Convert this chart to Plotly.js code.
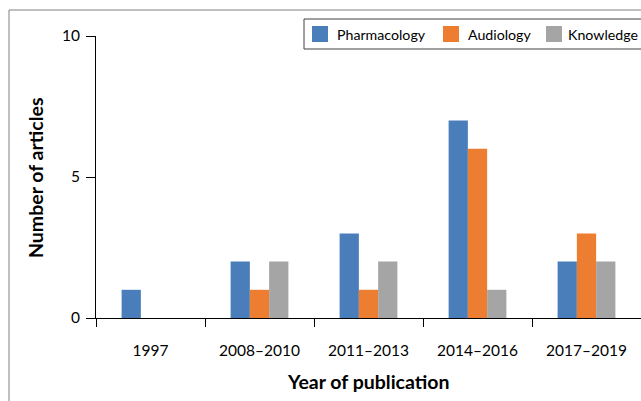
<!DOCTYPE html>
<html>
<head>
<meta charset="utf-8">
<script src="https://cdn.plot.ly/plotly-3.0.1.min.js"></script>
<style>
  html, body { margin: 0; padding: 0; background: #fff; }
  #chart { width: 641px; height: 401px; }
</style>
</head>
<body>
<div id="chart"></div>
<script>
const categories = ["1997", "2008\u20132010", "2011\u20132013", "2014\u20132016", "2017\u20132019"];
const pharmacology = [1, 2, 3, 7, 2];
const audiology = [0, 1, 1, 6, 3];
const knowledge = [0, 2, 2, 1, 2];
const seriesNames = ["Pharmacology", "Audiology", "Knowledge"];
const seriesColors = ["#4a7ebb", "#ed7d31", "#a5a5a5"];
const yTicks = [0, 5, 10];
const xTitle = "Year of publication";
const yTitle = "Number of articles";

const font = "Lato, 'Open Sans', 'Liberation Sans', sans-serif";

// plot-area geometry helpers (pixel -> paper)
const W = 641, H = 401, ML = 96, MR = 0, MT = 36, MB = 83;
const PW = W - ML - MR, PH = H - MT - MB;
const px = v => (v - ML) / PW;
const py = v => (H - MB - v) / PH;

const seriesValues = [pharmacology, audiology, knowledge];
const traces = seriesValues.map((vals, i) => ({
  type: "bar",
  name: seriesNames[i],
  x: categories,
  y: vals,
  marker: { color: seriesColors[i], line: { width: 0 } },
  showlegend: false
}));

// manual legend (box, swatches, labels)
const legSwatchX = [312, 443, 546];
const legTextX = [335, 466, 566];
const shapes = [
  { type: "rect", xref: "paper", yref: "paper",
    x0: px(9), x1: px(700), y0: py(460), y1: py(10),
    line: { color: "#808080", width: 1 }, fillcolor: "rgba(0,0,0,0)", layer: "below" },
  { type: "rect", xref: "paper", yref: "paper",
    x0: px(304), x1: px(700), y0: py(49), y1: py(19),
    line: { color: "#404040", width: 1 }, fillcolor: "#ffffff", layer: "above" }
];
const annotations = [];
seriesNames.forEach((name, i) => {
  shapes.push({ type: "rect", xref: "paper", yref: "paper",
    x0: px(legSwatchX[i]), x1: px(legSwatchX[i] + 16), y0: py(42), y1: py(26),
    line: { width: 0 }, fillcolor: seriesColors[i], layer: "above" });
  annotations.push({ xref: "paper", yref: "paper", x: px(legTextX[i]), y: py(34),
    xanchor: "left", yanchor: "middle", showarrow: false, text: name,
    font: { family: font, size: 14.2, color: "#000" } });
});
annotations.push({ xref: "paper", yref: "paper", x: px(368), y: py(381),
  xanchor: "center", yanchor: "middle", showarrow: false, text: "<b>" + xTitle + "</b>",
  font: { family: font, size: 19.5, color: "#000" } });
annotations.push({ xref: "paper", yref: "paper", x: px(35), y: py(178),
  xanchor: "center", yanchor: "middle", showarrow: false, textangle: -90, text: "<b>" + yTitle + "</b>",
  font: { family: font, size: 19.5, color: "#000" } });

const layout = {
  width: W,
  height: H,
  margin: { l: ML, r: MR, t: MT, b: MB },
  paper_bgcolor: "#ffffff",
  plot_bgcolor: "#ffffff",
  font: { family: font, size: 15, color: "#000" },
  barmode: "group",
  bargap: 0.47,
  bargroupgap: 0,
  showlegend: false,
  xaxis: {
    type: "category",
    automargin: false,
    showgrid: false,
    zeroline: false,
    showline: true,
    linecolor: "#000",
    linewidth: 1,
    ticks: "outside",
    tickson: "boundaries",
    ticklen: 8,
    tickcolor: "#000",
    ticklabelstandoff: 18,
    tickfont: { family: font, size: 15.5, color: "#000" }
  },
  yaxis: {
    range: [0, 10],
    automargin: false,
    tickvals: yTicks,
    showgrid: false,
    zeroline: false,
    showline: true,
    linecolor: "#000",
    linewidth: 1,
    ticks: "outside",
    ticklen: 9,
    tickcolor: "#000",
    ticklabelstandoff: 3,
    tickfont: { family: font, size: 15.5, color: "#000" }
  },
  shapes: shapes,
  annotations: annotations
};

Plotly.newPlot("chart", traces, layout, { displayModeBar: false, staticPlot: true });
</script>
</body>
</html>
